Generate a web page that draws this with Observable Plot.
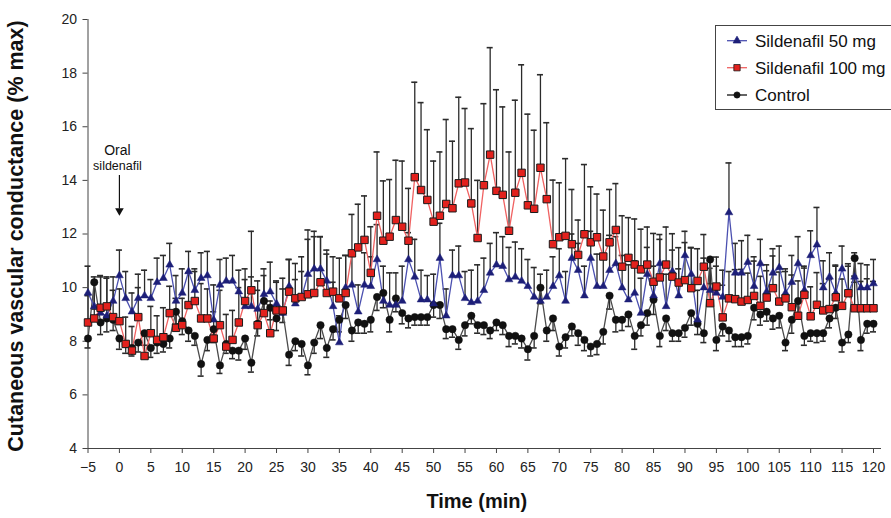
<!DOCTYPE html>
<html><head><meta charset="utf-8">
<script src="https://cdn.jsdelivr.net/npm/d3@7"></script>
<script src="https://cdn.jsdelivr.net/npm/@observablehq/plot@0.6"></script>
<style>
body{margin:0;background:#fff;}
#wrap{position:relative;width:891px;height:518px;overflow:hidden;font-family:"Liberation Sans",Arial,sans-serif;}
#legend{position:absolute;left:715px;top:25px;}
</style></head>
<body><div id="wrap"></div>
<script>
// time in minutes (x categories)
const minutes = d3.range(-5, 121);
const xTicks = d3.range(-5, 121, 5);
const yTicks = [4, 6, 8, 10, 12, 14, 16, 18, 20];

// Series means (% max), t = -5 … 120
const control = [
  8.1, 10.2, 8.7, 8.85, 8.8, 8.1, 7.9, 7.75, 7.95, 8.3,
  7.75, 7.95, 7.9, 8.1, 9.1, 8.75, 8.4, 8.2, 7.15, 8.05,
  8.45, 7.1, 7.9, 7.65, 7.65, 8.1, 7.2, 8.65, 9.5, 9.25,
  8.85, 9.1, 7.5, 8.0, 7.9, 7.1, 7.95, 8.6, 7.75, 8.45,
  8.8, 9.35, 8.4, 8.7, 8.65, 8.8, 9.65, 9.8, 8.8, 9.6,
  9.05, 8.85, 8.9, 8.9, 8.9, 9.35, 9.35, 8.45, 8.45, 8.05,
  8.6, 8.95, 8.6, 8.6, 8.4, 8.7, 8.6, 8.2, 8.2, 8.1,
  7.7, 8.2, 10.0, 8.4, 8.85, 7.8, 8.15, 8.55, 8.3, 8.05,
  7.8, 7.9, 8.35, 9.7, 8.8, 8.8, 9.0, 8.2, 8.6, 9.05,
  9.55, 8.2, 8.85, 8.3, 8.3, 8.5, 9.05, 8.65, 8.3, 11.05,
  8.05, 8.55, 8.4, 8.15, 8.15, 8.2, 9.25, 9.0, 9.1, 8.85,
  8.95, 7.95, 8.8, 9.5, 8.2, 8.3, 8.3, 8.3, 8.85, 9.25,
  7.95, 8.25, 11.1, 8.05, 8.65, 8.65
];
const sil50 = [
  9.8, 9.3, 9.05, 8.95, 9.5, 10.45, 9.6, 9.1, 9.6, 9.7,
  9.6, 10.2, 10.35, 10.85, 9.5, 9.8, 10.6, 9.9, 10.35, 10.45,
  8.8, 10.1, 10.25, 10.25, 9.85, 9.3, 9.3, 9.2, 9.75, 9.85,
  9.4, 9.05, 10.05, 9.4, 9.65, 10.5, 10.7, 10.7, 10.25, 9.3,
  7.95, 10.0, 10.1, 9.1, 10.1, 10.05, 11.05, 9.5, 9.35, 9.35,
  9.5, 11.05, 10.4, 9.55, 9.55, 9.4, 11.1, 8.95, 10.45, 10.45,
  9.6, 9.45, 9.5, 9.9, 10.55, 10.85, 10.8, 10.3, 10.4, 10.25,
  10.05, 9.65, 9.5, 9.65, 10.05, 10.45, 9.5, 11.1, 10.65, 9.7,
  11.1, 10.05, 10.05, 10.65, 10.9, 10.0, 9.55, 9.8, 9.05, 10.5,
  9.7, 10.9, 9.3, 10.6, 9.7, 11.2, 10.5, 8.8, 10.0, 9.9,
  9.8, 9.65, 12.8, 10.55, 10.55, 10.95, 10.05, 10.9, 9.85, 10.55,
  10.75, 9.8, 10.2, 10.9, 9.9, 11.2, 11.6, 10.0, 10.4, 9.8,
  10.7, 9.8, 10.4, 10.0, 10.0, 10.15
];
const sil100 = [
  8.7, 8.85, 9.25, 9.3, 8.9, 8.75, 7.9, 7.65, 8.9, 7.45,
  8.3, 8.05, 8.15, 9.05, 8.5, 8.6, 9.35, 9.5, 8.85, 8.85,
  8.1, 8.6, 7.8, 8.05, 8.7, 9.5, 9.9, 8.6, 9.05, 8.3,
  9.15, 9.15, 9.85, 9.6, 9.65, 9.75, 9.8, 10.2, 9.8, 9.85,
  9.6, 9.8, 11.28, 11.5, 11.78, 10.55, 12.68, 11.75, 11.9, 12.52,
  12.27, 11.75, 14.12, 13.64, 13.27, 12.46, 12.68, 13.12, 12.96, 13.89,
  13.92, 13.14, 11.85, 13.82, 14.96, 13.61, 13.46, 12.12, 13.54, 14.28,
  13.07, 12.94, 14.47, 13.3, 11.62, 11.88, 11.93, 11.62, 11.22, 11.99,
  11.69, 11.88, 11.16, 11.69, 12.15, 10.78, 11.11, 10.86, 10.68, 10.86,
  10.22, 10.38, 10.86, 10.41, 10.19, 10.28, 9.98, 10.25, 10.78, 9.42,
  10.04, 8.89, 9.6, 9.57, 9.48, 9.54, 9.69, 9.32, 9.63, 9.98,
  9.48, 9.6, 9.27, 8.95, 9.73, 8.93, 9.36, 9.15, 9.2, 9.64,
  9.32, 9.79, 9.23, 9.23, 9.23, 9.23
];

// Standard errors (control drawn downward, sildenafil upward)
const controlSE = [
  0.35, 1.0, 0.45, 0.5, 0.4, 0.4, 0.35, 0.3, 0.35, 0.45,
  0.35, 0.4, 0.3, 0.35, 0.45, 0.5, 0.4, 0.35, 0.45, 0.4,
  0.5, 0.3, 0.35, 0.3, 0.35, 0.4, 0.35, 0.45, 0.5, 0.45,
  0.45, 0.4, 0.4, 0.35, 0.45, 0.35, 0.4, 0.5, 0.35, 0.4,
  0.45, 0.5, 0.4, 0.4, 0.35, 0.45, 0.5, 0.55, 0.45, 0.5,
  0.4, 0.35, 0.3, 0.3, 0.3, 0.45, 0.5, 0.35, 0.3, 0.35,
  0.4, 0.3, 0.3, 0.35, 0.3, 0.3, 0.35, 0.4, 0.3, 0.35,
  0.4, 0.45, 0.6, 0.4, 0.45, 0.35, 0.4, 0.35, 0.45, 0.4,
  0.35, 0.4, 0.45, 0.5, 0.45, 0.4, 0.45, 0.5, 0.4, 0.45,
  0.55, 0.4, 0.45, 0.3, 0.3, 0.35, 0.45, 0.4, 0.35, 0.9,
  0.4, 0.35, 0.4, 0.35, 0.35, 0.3, 0.45, 0.4, 0.35, 0.4,
  0.45, 0.3, 0.5, 0.55, 0.35, 0.3, 0.35, 0.3, 0.35, 0.4,
  0.35, 0.3, 0.9, 0.4, 0.35, 0.3
];
const sil50SE = [
  1.0, 1.1, 1.35, 1.4, 0.9, 0.95, 1.0, 0.7, 0.9, 0.95,
  0.7, 0.9, 0.85, 0.8, 0.95, 0.9, 0.75, 0.8, 0.95, 0.9,
  1.3, 0.95, 0.85, 0.95, 0.8, 1.0, 1.1, 1.05, 0.95, 1.1,
  0.8, 0.9, 1.0, 0.9, 0.95, 1.3, 1.2, 1.2, 1.0, 0.9,
  1.0, 1.2, 1.1, 1.0, 1.2, 1.1, 1.3, 1.3, 1.2, 1.2,
  1.3, 1.0, 1.4, 1.1, 0.9, 1.1, 1.3, 1.0, 0.95, 1.1,
  1.0, 1.2, 1.35, 1.2, 1.1, 1.2, 1.1, 1.2, 1.3, 1.2,
  1.0, 1.1, 1.0, 1.0, 1.1, 1.0, 1.1, 0.9, 1.0, 1.1,
  1.0, 1.2, 1.1, 1.3, 1.0, 1.2, 1.3, 1.2, 1.3, 1.0,
  1.1, 0.9, 1.2, 0.8, 1.0, 0.9, 1.0, 1.1, 1.1, 1.1,
  1.0, 1.0, 1.85, 1.1, 1.2, 1.0, 1.1, 0.9, 1.0, 0.9,
  0.8, 0.9, 1.0, 1.0, 0.9, 0.92, 1.39, 1.0, 0.9, 1.0,
  0.85, 1.0, 0.9, 0.9, 0.85, 0.9
];
const sil100SE = [
  1.0, 1.3, 1.2, 1.1, 1.0, 1.2, 1.0, 0.9, 1.1, 0.9,
  1.0, 0.9, 1.1, 1.0, 1.1, 1.0, 1.2, 1.1, 1.3, 1.1,
  1.0, 1.3, 1.2, 1.1, 1.3, 1.2, 2.2, 1.3, 1.4, 1.2,
  1.1, 1.2, 1.2, 1.3, 1.5, 2.4, 2.3, 1.7, 1.6, 1.3,
  1.5, 1.4, 1.45, 1.61, 1.64, 1.72, 2.38, 2.23, 2.13, 2.23,
  2.45, 1.95, 3.54, 3.26, 2.62, 2.26, 2.38, 3.15, 2.5, 3.21,
  2.76, 2.79, 2.15, 3.04, 3.99, 3.77, 3.28, 2.94, 3.45, 4.03,
  3.4, 2.93, 3.47, 2.85, 2.39, 2.03, 2.88, 2.04, 1.3, 2.6,
  2.07, 1.61, 1.73, 1.97, 1.73, 1.9, 1.5, 1.7, 1.5, 1.4,
  1.8, 1.6, 1.4, 1.6, 1.3, 1.4, 1.5, 1.2, 1.2, 1.3,
  1.1, 1.2, 1.0, 1.1, 1.2, 1.0, 1.3, 1.1, 1.0, 1.2,
  1.1, 1.0, 1.2, 1.3, 1.0, 1.1, 1.2, 1.0, 1.1, 1.2,
  1.0, 1.1, 1.2, 1.0, 1.1, 1.0
];

const seriesNames = ["Sildenafil 50 mg", "Sildenafil 100 mg", "Control"];
const annotationText = [{t: 0, level: 15.1, text: "Oral", size: 14}, {t: 0, level: 14.52, text: "sildenafil", size: 12.5}];
const annotationArrow = [{t: 0, from: 14.2, to: 12.95, head: 12.87}];

// build tidy rows
function rows(values, se, dir, name) {
  return minutes.map((t, i) => ({t, v: values[i], end: values[i] + dir * se[i], name}));
}
const rC = rows(control, controlSE, -1, seriesNames[2]);
const rB = rows(sil50, sil50SE, 1, seriesNames[0]);
const rR = rows(sil100, sil100SE, 1, seriesNames[1]);
const allErr = [...rC, ...rB, ...rR];

const errStroke = "#2b2b2b";
const plot = Plot.plot({
  width: 891, height: 518,
  marginLeft: 87.5, marginRight: 18, marginTop: 19, marginBottom: 70,
  x: {domain: [-5, 120]},
  y: {domain: [4, 20]},
  style: {fontFamily: '"Liberation Sans", Arial, sans-serif', fontSize: "13px", color: "#222", background: "#fff", overflow: "visible"},
  marks: [
    Plot.axisX({ticks: xTicks, tickSize: 5, tickPadding: 9, label: null, fontSize: 14, stroke: "#444"}),
    Plot.axisY({ticks: yTicks, tickSize: 5, tickPadding: 6, label: null, fontSize: 14, stroke: "#444"}),
    Plot.frame({anchor: "left", stroke: "#444"}),
    Plot.frame({anchor: "bottom", stroke: "#444", insetRight: -7}),
    // error bars
    Plot.ruleX(allErr, {x: "t", y1: "v", y2: "end", stroke: errStroke, strokeWidth: 1.3}),
    Plot.ruleY(allErr, {y: "end", x1: d => d.t - 0.48, x2: d => d.t + 0.48, stroke: errStroke, strokeWidth: 1.6}),
    // lines
    Plot.line(rC, {x: "t", y: "v", stroke: "#4a4a4a", strokeWidth: 1.3}),
    Plot.line(rB, {x: "t", y: "v", stroke: "#4b50b0", strokeWidth: 1.3}),
    Plot.line(rR, {x: "t", y: "v", stroke: "#f06262", strokeWidth: 1.3}),
    // markers
    Plot.dot(rC, {x: "t", y: "v", r: 3.7, fill: "#111", stroke: "#111", strokeWidth: 0.5}),
    Plot.dot(rB, {x: "t", y: "v", symbol: "triangle", r: 2.9, fill: "#1d1f78", stroke: "#1d1f78", strokeWidth: 0.5}),
    Plot.dot(rR, {x: "t", y: "v", symbol: "square", r: 4.2, fill: "#e3211d", stroke: "#1a1a1a", strokeWidth: 1}),
    // annotation
    Plot.text(annotationText, {x: "t", y: "level", text: "text", fontSize: d => d.size, dx: -2, fill: "#111"}),
    Plot.link(annotationArrow, {x1: "t", x2: "t", y1: "from", y2: "to", stroke: "#111", strokeWidth: 1.2}),
    Plot.dot(annotationArrow, {x: "t", y: "head", symbol: "triangle", r: 3.2, rotate: 180, fill: "#111"}),
    // axis titles
    Plot.text(["Cutaneous vascular conductance (% max)"], {frameAnchor: "left", textAnchor: "middle", dx: -72, dy: 2, rotate: -90, fontSize: 21.5, fontWeight: "bold", fill: "#111"}),
    Plot.text(["Time (min)"], {frameAnchor: "bottom", textAnchor: "middle", dy: 59, dx: -4, fontSize: 20, fontWeight: "bold", fill: "#111"})
  ]
});
document.getElementById("wrap").appendChild(plot);

// legend
const lg = d3.select("#wrap").append("svg").attr("id", "legend").attr("width", 180).attr("height", 86);
lg.append("rect").attr("x", 0.5).attr("y", 0.5).attr("width", 190).attr("height", 84).attr("fill", "#fff").attr("stroke", "#444");
const legendRows = [
  {name: seriesNames[0], y: 15.7, line: "#4b50b0", sym: d3.symbolTriangle, fill: "#1d1f78", stroke: "#1d1f78", size: 26},
  {name: seriesNames[1], y: 42.7, line: "#f06262", sym: d3.symbolSquare, fill: "#e3211d", stroke: "#1a1a1a", size: 40},
  {name: seriesNames[2], y: 70, line: "#111", sym: d3.symbolCircle, fill: "#111", stroke: "#111", size: 30}
];
for (const r of legendRows) {
  lg.append("line").attr("x1", 12).attr("x2", 32).attr("y1", r.y).attr("y2", r.y).attr("stroke", r.line).attr("stroke-width", 1.3);
  lg.append("path").attr("d", d3.symbol(r.sym, r.size)()).attr("transform", `translate(22,${r.y})`).attr("fill", r.fill).attr("stroke", r.stroke).attr("stroke-width", 0.8);
  lg.append("text").attr("x", 40).attr("y", r.y).attr("dy", "0.36em").attr("font-size", 17).attr("fill", "#111")
    .attr("font-family", '"Liberation Sans", Arial, sans-serif').text(r.name);
}
</script></body></html>
